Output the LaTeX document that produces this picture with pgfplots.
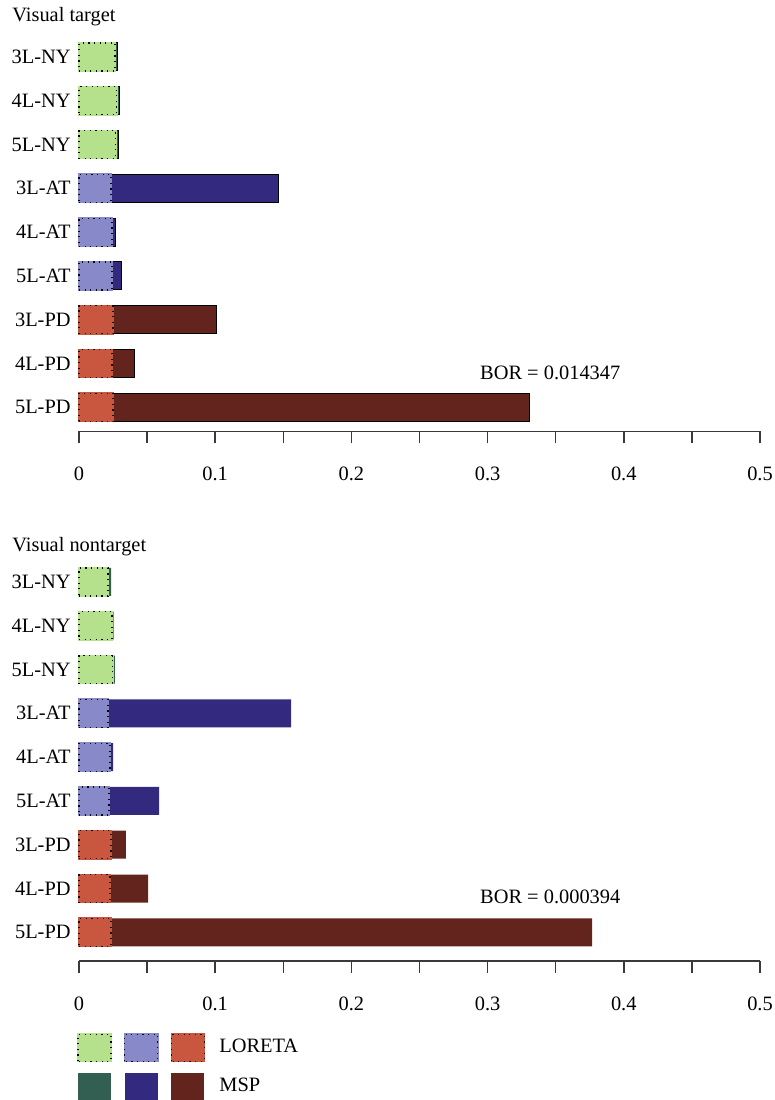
\documentclass[border=0pt]{standalone}
\usepackage{fontspec}
\setmainfont{Liberation Serif}
\usepackage{pgfplots}
\usepackage{pgfplotstable}
\pgfplotsset{compat=1.18}
\definecolor{LG}{HTML}{B5E08C}
\definecolor{DG}{HTML}{335F52}
\definecolor{LB}{HTML}{8889C8}
\definecolor{DB}{HTML}{332A80}
\definecolor{LR}{HTML}{C9563F}
\definecolor{DR}{HTML}{62241D}
\definecolor{axc}{HTML}{3A3A3A}

% top panel: Visual target (y: 9=3L-NY ... 1=5L-PD), L=LORETA, M=MSP
\pgfplotstableread{
y L M
9 0.0265 0.0015
8 0.0277 0.0023
7 0.0270 0.0023
}\tNY
\pgfplotstableread{
y L M
6 0.0235 0.1227
5 0.0242 0.0024
4 0.0242 0.0067
}\tAT
\pgfplotstableread{
y L M
3 0.0250 0.0763
2 0.0242 0.0169
1 0.0250 0.3054
}\tPD
% bottom panel: Visual nontarget
\pgfplotstableread{
y L M
9 0.0213 0.0022
8 0.0242 0.0013
7 0.0247 0.0017
}\bNY
\pgfplotstableread{
y L M
6 0.0213 0.1344
5 0.0228 0.0022
4 0.0220 0.0368
}\bAT
\pgfplotstableread{
y L M
3 0.0235 0.0110
2 0.0228 0.0279
1 0.0235 0.3532
}\bPD

\pgfplotsset{
  mybar/.style={xbar, bar width=14pt, bar shift=0pt, forget plot},
  msp/.style={mybar, fill=#1, draw=black, line width=0.5pt},
  mspnb/.style={mybar, fill=#1, draw=none},
  lor/.style={mybar, fill=#1, draw=#1, line width=0.9pt,
    postaction={draw=black, line width=0.6pt, dash pattern=on 0.6pt off 2.2pt}},
  legsq/.style={legend image code/.code={\path[##1] (0pt,-6.75pt) rectangle (16.5pt,6.75pt);}},
  panel/.style={
    anchor=north west,
    x=681pt, y=21.9pt,
    xmin=0, xmax=0.5, ymax=9.5,
    axis lines*=left,
    y axis line style={draw=none},
    x axis line style={axc, line width=0.8pt, -},
    ytick={1,...,9},
    yticklabels={5L-PD,4L-PD,3L-PD,5L-AT,4L-AT,3L-AT,5L-NY,4L-NY,3L-NY},
    ytick style={draw=none},
    xtick={0,0.1,0.2,0.3,0.4,0.5},
    minor xtick={0.05,0.15,0.25,0.35,0.45},
    xtick style={axc, line width=0.7pt},
    every minor tick/.append style={axc, line width=0.7pt},
    tick align=outside, major tick length=6pt, minor tick length=6pt,
    xticklabel style={inner sep=0pt, yshift=-11.5pt},
    yticklabel style={inner sep=0pt, xshift=2pt},
    /pgf/number format/assume math mode=true,
    clip=false,
  },
}

\begin{document}
\fontsize{10.2}{12.2}\selectfont
\begin{tikzpicture}
\begin{axis}[panel, at={(0pt,0pt)}, ymin=0.45]
  \addplot[msp=DG] table[y=y, x expr={\thisrow{L}+\thisrow{M}}]{\tNY};
  \addplot[lor=LG] table[y=y, x=L]{\tNY};
  \addplot[msp=DB] table[y=y, x expr={\thisrow{L}+\thisrow{M}}]{\tAT};
  \addplot[lor=LB] table[y=y, x=L]{\tAT};
  \addplot[msp=DR] table[y=y, x expr={\thisrow{L}+\thisrow{M}}]{\tPD};
  \addplot[lor=LR] table[y=y, x=L]{\tPD};
  \node at (axis cs:0.346,1.79) {BOR = 0.014347};
\end{axis}
\begin{axis}[panel, at={(0pt,-262.5pt)}, ymin=0.34,
  legend columns=3,
  legend style={at={(0,0)}, anchor=north west, xshift=-1pt, yshift=-36pt,
    draw=none, fill=none, inner sep=0pt, outer sep=0pt,
    nodes={inner sep=0pt, anchor=west},
    /tikz/column sep=2.5pt, /tikz/row sep=5.5pt},
]
  \addplot[mspnb=DG] table[y=y, x expr={\thisrow{L}+\thisrow{M}}]{\bNY};
  \addplot[lor=LG] table[y=y, x=L]{\bNY};
  \addplot[mspnb=DB] table[y=y, x expr={\thisrow{L}+\thisrow{M}}]{\bAT};
  \addplot[lor=LB] table[y=y, x=L]{\bAT};
  \addplot[mspnb=DR] table[y=y, x expr={\thisrow{L}+\thisrow{M}}]{\bPD};
  \addplot[lor=LR] table[y=y, x=L]{\bPD};
  \node at (axis cs:0.346,1.82) {BOR = 0.000394};
  \addlegendimage{legsq, fill=LG, draw=LG, line width=0.9pt, postaction={draw=black, line width=0.6pt, dash pattern=on 0.6pt off 2.2pt}}
  \addlegendentry{}
  \addlegendimage{legsq, fill=LB, draw=LB, line width=0.9pt, postaction={draw=black, line width=0.6pt, dash pattern=on 0.6pt off 2.2pt}}
  \addlegendentry{}
  \addlegendimage{legsq, fill=LR, draw=LR, line width=0.9pt, postaction={draw=black, line width=0.6pt, dash pattern=on 0.6pt off 2.2pt}}
  \addlegendentry{\hspace*{4.5pt}LORETA}
  \addlegendimage{legsq, fill=DG, draw=none}
  \addlegendentry{}
  \addlegendimage{legsq, fill=DB, draw=none}
  \addlegendentry{}
  \addlegendimage{legsq, fill=DR, draw=none}
  \addlegendentry{\hspace*{4.5pt}MSP}
\end{axis}
\node[anchor=base west, inner sep=0pt] at (-33.5pt,7pt) {Visual target};
\node[anchor=base west, inner sep=0pt] at (-33.5pt,-258pt) {Visual nontarget};
\pgfresetboundingbox
\path[use as bounding box] (-39.5pt,17.5pt) rectangle (348pt,-532.5pt);
\end{tikzpicture}
\end{document}
